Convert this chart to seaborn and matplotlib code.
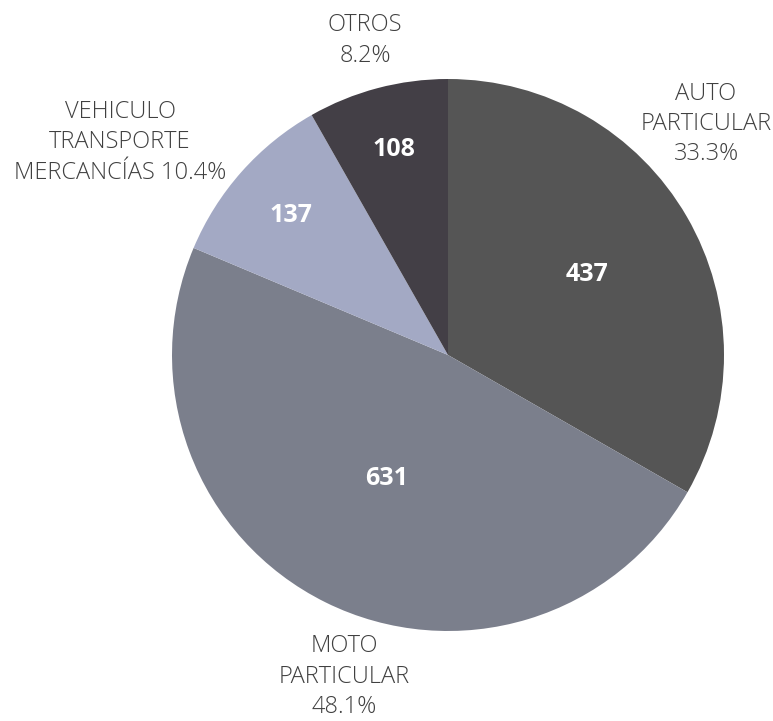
import numpy as np
import matplotlib
matplotlib.use('Agg')
import matplotlib.pyplot as plt
import seaborn as sns

# datos
categorias = ['AUTO\nPARTICULAR', 'MOTO\nPARTICULAR', 'VEHICULO\nTRANSPORTE\nMERCANCÍAS', 'OTROS']
valores = [437, 631, 137, 108]
colores = ['#555555', '#7b7f8c', '#a3a9c4', '#433f46']

sns.set_theme(style='white')
plt.rcParams['font.family'] = ['Open Sans', 'DejaVu Sans']

fig = plt.figure(figsize=(7.73, 7.21), dpi=100)
W, H = 773, 721
cx, cy, r = 448, 355, 276
ax = fig.add_axes([(cx - r) / W, (H - cy - r) / H, 2 * r / W, 2 * r / H])

wedges, _ = ax.pie(valores, colors=colores, startangle=90, counterclock=False,
                   radius=1, wedgeprops={'linewidth': 0})
ax.set_xlim(-1, 1)
ax.set_ylim(-1, 1)
ax.set_aspect('equal')
ax.axis('off')

total = sum(valores)
# distancia radial de cada número dentro del sector
dist_num = [0.58, 0.50, 0.76, 0.77]
for w, v, d in zip(wedges, valores, dist_num):
    ang = np.deg2rad((w.theta1 + w.theta2) / 2)
    ax.text(d * np.cos(ang), d * np.sin(ang), str(v), ha='center', va='center',
            color='white', fontsize=18, fontweight='bold')

# posiciones de las etiquetas exteriores (coordenadas de datos)
pos_etq = [(0.935, 0.837), (-0.375, -1.165), (-1.188, 0.77), (-0.30, 1.14)]
for cat, v, (x, y) in zip(categorias, valores, pos_etq):
    pct = 100 * v / total
    if cat.startswith('VEHICULO'):
        txt = f'{cat} {pct:.1f}%'
    else:
        txt = f'{cat}\n{pct:.1f}%'
    ax.text(x, y, txt, ha='center', va='center', color='#404040',
            fontsize=17, fontweight='light', linespacing=1.36)

fig.savefig('out.png', dpi=100)
